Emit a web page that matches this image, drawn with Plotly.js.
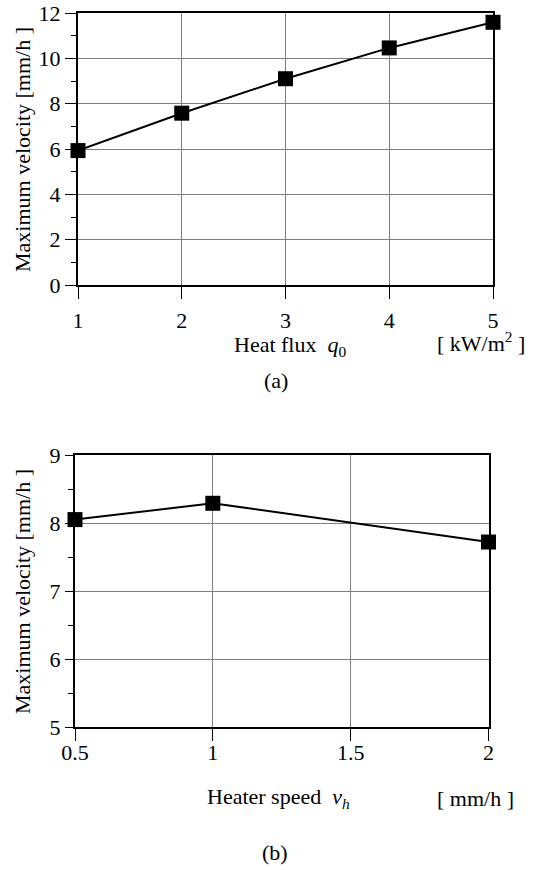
<!DOCTYPE html>
<html>
<head>
<meta charset="utf-8">
<script src="https://cdn.plot.ly/plotly-3.0.1.min.js"></script>
<style>html,body{margin:0;padding:0;background:#fff;}#chart{width:551px;height:870px;}</style>
</head>
<body>
<div id="chart"></div>
<script>
// Panel (a): heat flux vs maximum velocity
const heatFlux = [1, 2, 3, 4, 5];
const velocityA = [5.93, 7.58, 9.1, 10.46, 11.59];
const tickValsA = [1, 2, 3, 4, 5];
const tickTextA = ['1', '2', '3', '4', '5'];

// Panel (b): heater speed vs maximum velocity
const heaterSpeed = [0.5, 1, 2];
const velocityB = [8.05, 8.29, 7.72];
const tickValsB = [0.5, 1, 1.5, 2];
const tickTextB = ['0.5', '1', '1.5', '2'];

const W = 551, H = 870;
const px = v => v / W;
const py = v => 1 - v / H;

const FONT = 'Liberation Serif';
const markerStyle = {symbol: 'square', size: 15, color: '#000'};
const lineStyle = {color: '#000', width: 2};

const traces = [
  {x: heatFlux, y: velocityA, xaxis: 'x', yaxis: 'y', mode: 'lines+markers',
   marker: markerStyle, line: lineStyle, cliponaxis: false, showlegend: false},
  {x: heaterSpeed, y: velocityB, xaxis: 'x2', yaxis: 'y2', mode: 'lines+markers',
   marker: markerStyle, line: lineStyle, cliponaxis: false, showlegend: false}
];

const baseAxis = {
  showgrid: true, gridcolor: '#7f7f7f', gridwidth: 1,
  showline: true, linecolor: '#000', linewidth: 2, mirror: true,
  zeroline: false, ticks: 'outside', tickcolor: '#000', tickwidth: 1,
  tickfont: {family: FONT, size: 22, color: '#000'}, fixedrange: true
};

const ann = (text, x, y, xanchor, extra) => Object.assign({
  text: text, xref: 'paper', yref: 'paper', x: px(x), y: py(y),
  xanchor: xanchor, yanchor: 'middle', showarrow: false,
  font: {family: FONT, size: 22, color: '#000'}
}, extra || {});

const layout = {
  width: W, height: H,
  margin: {l: 0, r: 0, t: 0, b: 0},
  paper_bgcolor: '#fff', plot_bgcolor: '#fff',
  font: {family: FONT, size: 22, color: '#000'},
  showlegend: false,
  xaxis: Object.assign({}, baseAxis, {
    domain: [px(78), px(493)], anchor: 'y', range: [1, 5],
    tickmode: 'array', tickvals: tickValsA, ticktext: tickTextA,
    ticklen: 12, ticklabelstandoff: 3
  }),
  yaxis: Object.assign({}, baseAxis, {
    domain: [py(285), py(13)], anchor: 'x', range: [0, 12],
    tickmode: 'linear', tick0: 0, dtick: 2, ticklen: 11,
    minor: {dtick: 1, tick0: 0, ticks: 'outside', ticklen: 5, tickcolor: '#000', showgrid: false}
  }),
  xaxis2: Object.assign({}, baseAxis, {
    domain: [px(75), px(488.5)], anchor: 'y2', range: [0.5, 2],
    tickmode: 'array', tickvals: tickValsB, ticktext: tickTextB,
    ticklen: 12, ticklabelstandoff: -7
  }),
  yaxis2: Object.assign({}, baseAxis, {
    domain: [py(727), py(455)], anchor: 'x2', range: [5, 9],
    tickmode: 'linear', tick0: 5, dtick: 1, ticklen: 8,
    minor: {dtick: 0.5, tick0: 5, ticks: 'outside', ticklen: 5, tickcolor: '#000', showgrid: false}
  }),
  annotations: [
    ann('Maximum velocity [mm/h ]', 22, 150, 'center', {textangle: -90}),
    ann('Heat flux  <i>q</i><sub>0</sub>', 232, 346, 'left'),
    ann('[ kW/m<sup>2</sup> ]', 435, 342, 'left'),
    ann('(a)', 276, 380, 'center'),
    ann('Maximum velocity [mm/h ]', 22, 592, 'center', {textangle: -90}),
    ann('Heater speed  <i>v</i><sub><i>h</i></sub>', 205, 798, 'left'),
    ann('[ mm/h ]', 435, 798, 'left'),
    ann('(b)', 275, 852, 'center')
  ]
};

Plotly.newPlot('chart', traces, layout, {staticPlot: true, displayModeBar: false});
</script>
</body>
</html>
